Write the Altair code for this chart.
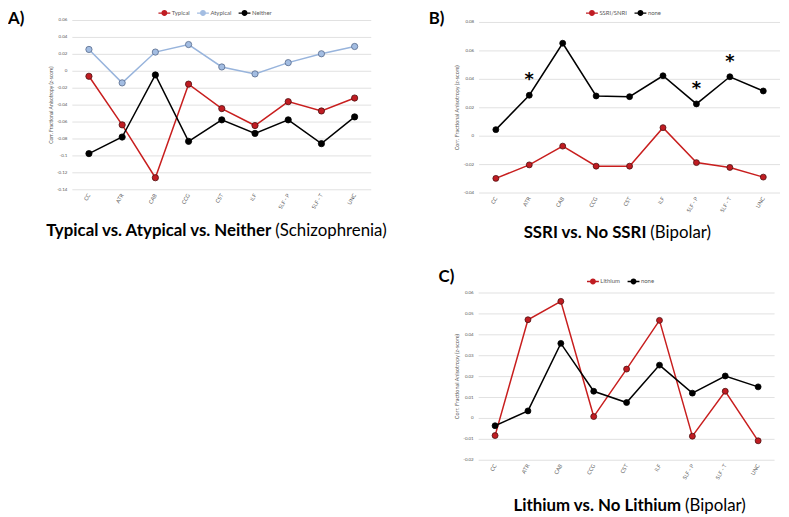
import altair as alt
import pandas as pd

# ---------------- data ----------------
categories = ["CC", "ATR", "CAB", "CCG", "CST", "ILF", "SLF - P", "SLF - T", "UNC"]

a_names = ["Typical", "Atypical", "Neither"]
a_typical = [-0.0059, -0.0633, -0.1258, -0.0152, -0.0441, -0.0641, -0.0359, -0.0469, -0.0316]
a_atypical = [0.0258, -0.0137, 0.0227, 0.0316, 0.0051, -0.0031, 0.0102, 0.0207, 0.0293]
a_neither = [-0.0973, -0.0777, -0.0043, -0.0828, -0.0574, -0.0734, -0.0574, -0.0855, -0.0539]
a_ticks = [0.06, 0.04, 0.02, 0, -0.02, -0.04, -0.06, -0.08, -0.1, -0.12, -0.14]
a_tick_labels = ["0.06", "0.04", "0.02", "0", "-0.02", "-0.04", "-0.06", "-0.08", "-0.1", "-0.12", "-0.14"]

b_names = ["SSRI/SNRI", "none"]
b_ssri = [-0.0297, -0.0202, -0.0070, -0.0211, -0.0211, 0.0060, -0.0186, -0.0220, -0.0288]
b_none = [0.0046, 0.0288, 0.0654, 0.0283, 0.0278, 0.0425, 0.0227, 0.0418, 0.0318]
b_stars = ["ATR", "SLF - P", "SLF - T"]
b_ticks = [0.08, 0.06, 0.04, 0.02, 0, -0.02, -0.04]
b_tick_labels = ["0.08", "0.06", "0.04", "0.02", "0", "-0.02", "-0.04"]

c_names = ["Lithium", "none"]
c_lithium = [-0.0082, 0.0472, 0.0560, 0.0009, 0.0236, 0.0469, -0.0085, 0.0130, -0.0107]
c_none = [-0.0035, 0.0036, 0.0359, 0.0130, 0.0076, 0.0255, 0.0121, 0.0203, 0.0151]
c_ticks = [0.06, 0.05, 0.04, 0.03, 0.02, 0.01, 0, -0.01, -0.02]
c_tick_labels = ["0.06", "0.05", "0.04", "0.03", "0.02", "0.01", "0", "-0.01", "-0.02"]

y_title = "Corr. Fractional Anisotropy  (z-score)"

# ---------------- style ----------------
FONT = "Lato"
GRID = "#d9d9d9"
LABEL = "#595959"
RED_LINE, RED_FILL, RED_EDGE = "#c81e1e", "#c01c22", "#4d1111"
BLUE_LINE, BLUE_FILL, BLUE_EDGE = "#98b4dc", "#a3bde2", "#56698a"
BLK = "#000000"
LEGEND_SYMBOL = ("M-1,-0.11L1,-0.11L1,0.11L-1,0.11Z "
                 "M0.5,0A0.5,0.5,0,1,1,-0.5,0A0.5,0.5,0,1,1,0.5,0Z")


def panel(names, values, line_cols, fill_cols, edge_cols, ticks, tick_labels,
          ydom, xr, yr, legend_x, legend_y, size=36, lw=1.5, title_fs=5.5,
          tick_fs=4.5, stars=None):
    xs = alt.Scale(domain=[-0.5, 8.5], range=xr, nice=False, zero=False)
    ys = alt.Scale(domain=ydom, range=yr, nice=False, zero=False)
    X = lambda f: alt.X(f, scale=xs, axis=None)
    Y = lambda f: alt.Y(f, scale=ys, axis=None)
    rows = []
    for name, vals, lc, ec in zip(names, values, line_cols, edge_cols):
        for i, (c, v) in enumerate(zip(categories, vals)):
            rows.append({"cat": c, "idx": i, "series": name, "value": v,
                         "linecol": lc, "edgecol": ec})
    df = pd.DataFrame(rows)

    grid_df = pd.DataFrame({"lo": -0.5, "hi": 8.5, "value": ticks, "label": tick_labels})
    grid = alt.Chart(grid_df).mark_rule(color=GRID, strokeWidth=0.8).encode(
        x=X("lo:Q"), x2="hi:Q", y=Y("value:Q"))
    ylab = alt.Chart(grid_df).mark_text(
        align="right", baseline="middle", dx=-5, fontSize=tick_fs, color=LABEL, font=FONT
    ).encode(x=X("lo:Q"), y=Y("value:Q"), text="label:N")
    xlab_df = pd.DataFrame({"idx": list(range(len(categories))), "cat": categories,
                            "value": ydom[0]})
    xlab = alt.Chart(xlab_df).mark_text(
        angle=300, align="right", baseline="middle", dx=-3.8, dy=2.2, fontSize=5.5,
        color=LABEL, font=FONT
    ).encode(x=X("idx:Q"), y=Y("value:Q"), text="cat:N")
    yt_df = pd.DataFrame({"lo": [-0.5], "value": [(ydom[0] + ydom[1]) / 2], "t": [y_title]})
    ytitle = alt.Chart(yt_df).mark_text(
        angle=270, align="center", baseline="middle", dy=-22, fontSize=title_fs, color=LABEL,
        font=FONT
    ).encode(x=X("lo:Q"), y=Y("value:Q"), text="t:N")
    line = alt.Chart(df).mark_line(strokeWidth=lw).encode(
        x=X("idx:Q"), y=Y("value:Q"),
        color=alt.Color("linecol:N", scale=None), detail="series:N")
    pts = alt.Chart(df).mark_point(shape="circle", filled=True, size=size, strokeWidth=0.8,
                                   opacity=1).encode(
        x=X("idx:Q"), y=Y("value:Q"),
        fill=alt.Fill("series:N", scale=alt.Scale(domain=names, range=fill_cols),
                      legend=alt.Legend(orient="none", legendX=legend_x, legendY=legend_y,
                                        direction="horizontal", title=None,
                                        labelFontSize=6, labelColor=LABEL, labelFont=FONT,
                                        symbolType=LEGEND_SYMBOL, symbolSize=144,
                                        symbolStrokeWidth=0, symbolOpacity=1,
                                        labelOffset=1.5, columnPadding=7, padding=0)),
        stroke=alt.Stroke("edgecol:N", scale=None))
    layers = [grid, ylab, xlab, ytitle, line, pts]
    if stars:
        sdf = df[(df["series"] == names[-1]) & (df["cat"].isin(stars))]
        layers.append(alt.Chart(sdf).mark_text(
            text="*", fontSize=18, fontWeight="bold", baseline="middle", dy=-15, color=BLK,
            font="DejaVu Sans").encode(x=X("idx:Q"), y=Y("value:Q")))
    return alt.layer(*layers)


pA = panel(a_names, [a_typical, a_atypical, a_neither],
           [RED_LINE, BLUE_LINE, BLK], [RED_FILL, BLUE_FILL, BLK], [RED_EDGE, BLUE_EDGE, BLK],
           a_ticks, a_tick_labels, [-0.14, 0.06], [65, 367], [181, 10], 152, -3.5,
           size=40, title_fs=5)
pB = panel(b_names, [b_ssri, b_none], [RED_LINE, BLK], [RED_FILL, BLK], [RED_EDGE, BLK],
           b_ticks, b_tick_labels, [-0.04, 0.08], [476, 780], [184.3, 12], 584, -3.5,
           size=36, stars=b_stars)
pC = panel(c_names, [c_lithium, c_none], [RED_LINE, BLK], [RED_FILL, BLK], [RED_EDGE, BLK],
           c_ticks, c_tick_labels, [-0.02, 0.06], [475.5, 774.5], [454.3, 285.3], 585, 267.7,
           size=36)


def note(txt, x, y, size, weight="bold", align="left"):
    return alt.Chart(pd.DataFrame({"t": [txt]})).mark_text(
        align=align, baseline="alphabetic", fontSize=size, fontWeight=weight, font=FONT,
        color=BLK).encode(x=alt.value(x), y=alt.value(y), text="t:N")


notes = [
    note("A)", 0, 14, 17),
    note("B)", 425, 14, 17),
    note("C)", 435, 274, 17),
    note("Typical vs. Atypical vs. Neither", 266, 228, 17, align="right"),
    note("(Schizophrenia)", 270, 228, 17, weight="normal"),
    note("SSRI vs. No SSRI", 645, 230, 17, align="right"),
    note("(Bipolar)", 649, 230, 17, weight="normal"),
    note("Lithium vs. No Lithium", 680, 506, 17, align="right"),
    note("(Bipolar)", 684, 506, 17, weight="normal"),
]

chart = alt.layer(pA, pB, pC, *notes).resolve_scale(
    x="independent", y="independent", fill="independent"
).properties(
    width=781, height=509, padding=0, autosize=alt.AutoSizeParams(type="none")
).configure_view(stroke=None)

chart.save("out.html", embed_options={"renderer": "svg", "actions": False})
